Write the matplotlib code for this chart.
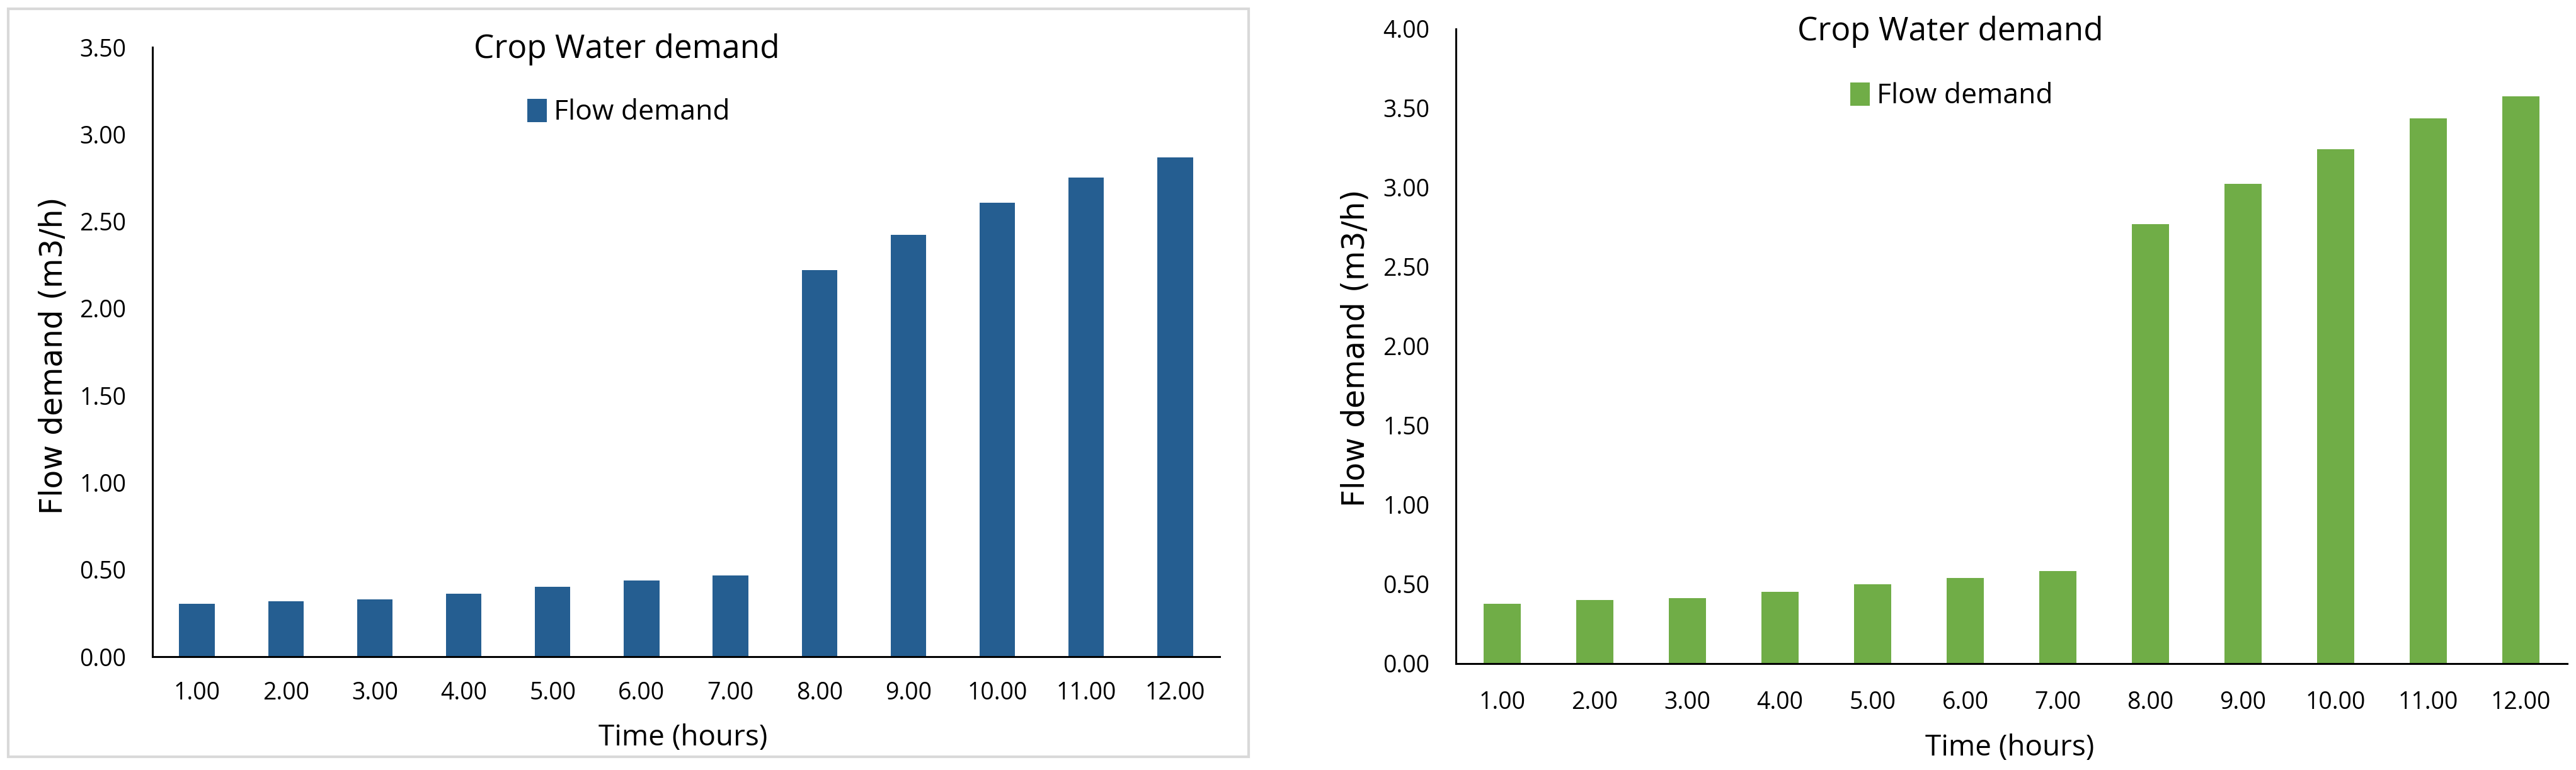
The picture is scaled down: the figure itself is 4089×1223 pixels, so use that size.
import numpy as np
import matplotlib
matplotlib.use('Agg')
import matplotlib.pyplot as plt
from matplotlib.patches import Rectangle
from matplotlib.ticker import FormatStrFormatter

# data
hours = [1, 2, 3, 4, 5, 6, 7, 8, 9, 10, 11, 12]
hour_labels = ['%.2f' % h for h in hours]
demand_left = [0.305, 0.319, 0.330, 0.361, 0.400, 0.437, 0.468, 2.219, 2.422, 2.606, 2.750, 2.868]
demand_right = [0.377, 0.402, 0.414, 0.451, 0.500, 0.541, 0.584, 2.771, 3.024, 3.243, 3.435, 3.574]

plt.rcParams['font.family'] = ['Open Sans', 'DejaVu Sans']

W, H = 4089, 1223
fig = plt.figure(figsize=(W / 100, H / 100), dpi=100)


def fx(px):
    return px / W


def fy(py):
    return 1 - py / H


def panel(rect, values, color, ymax, xpad, title_xy, leg_xy, xlab_xy, ylab_xy):
    ax = fig.add_axes(rect)
    x = np.arange(len(values))
    ax.bar(x, values, width=0.40, color=color, label='Flow demand')
    ax.set_xlim(-0.5, len(values) - 0.5)
    ax.set_ylim(0, ymax)
    ax.set_yticks(np.arange(0, ymax + 0.01, 0.5))
    ax.yaxis.set_major_formatter(FormatStrFormatter('%.2f'))
    ax.set_xticks(x)
    ax.set_xticklabels(hour_labels)
    for s in ['top', 'right']:
        ax.spines[s].set_visible(False)
    for s in ['left', 'bottom']:
        ax.spines[s].set_linewidth(2.2)
    ax.tick_params(length=0, labelsize=27, colors='black')
    ax.tick_params(axis='x', pad=xpad)
    ax.tick_params(axis='y', pad=30)
    fig.text(fx(title_xy[0]), fy(title_xy[1]), 'Crop Water demand', fontsize=37,
             ha='center', va='center')
    ax.legend(loc='center', bbox_to_anchor=(fx(leg_xy[0]), fy(leg_xy[1])),
              bbox_transform=fig.transFigure, frameon=False, fontsize=32,
              handlelength=0.7, handleheight=0.9, handletextpad=0.25)
    fig.text(fx(xlab_xy[0]), fy(xlab_xy[1]), 'Time (hours)', fontsize=33,
             ha='center', va='center')
    fig.text(fx(ylab_xy[0]), fy(ylab_xy[1]), 'Flow demand (m3/h)', fontsize=35,
             family='DejaVu Sans', rotation=90, ha='center', va='center')
    return ax


# left chart with its light grey frame
fig.patches.append(Rectangle((fx(13), fy(1202)), fx(1982 - 13), (1202 - 14) / H,
                             transform=fig.transFigure, fill=False,
                             edgecolor='#d9d9d9', linewidth=3))
panel([fx(242), fy(1043), fx(1936 - 242), (1043 - 75) / H], demand_left, '#255e91', 3.5, 28,
      (995, 78), (998, 179), (1084, 1172), (85, 565))

# right chart
panel([fx(2311), fy(1054), fx(4075 - 2311), (1054 - 46) / H], demand_right, '#70ad47', 4.0, 31,
      (3096, 51), (3098, 153), (3190, 1188), (2152, 553))

fig.savefig('out.png', dpi=100, facecolor='white')
